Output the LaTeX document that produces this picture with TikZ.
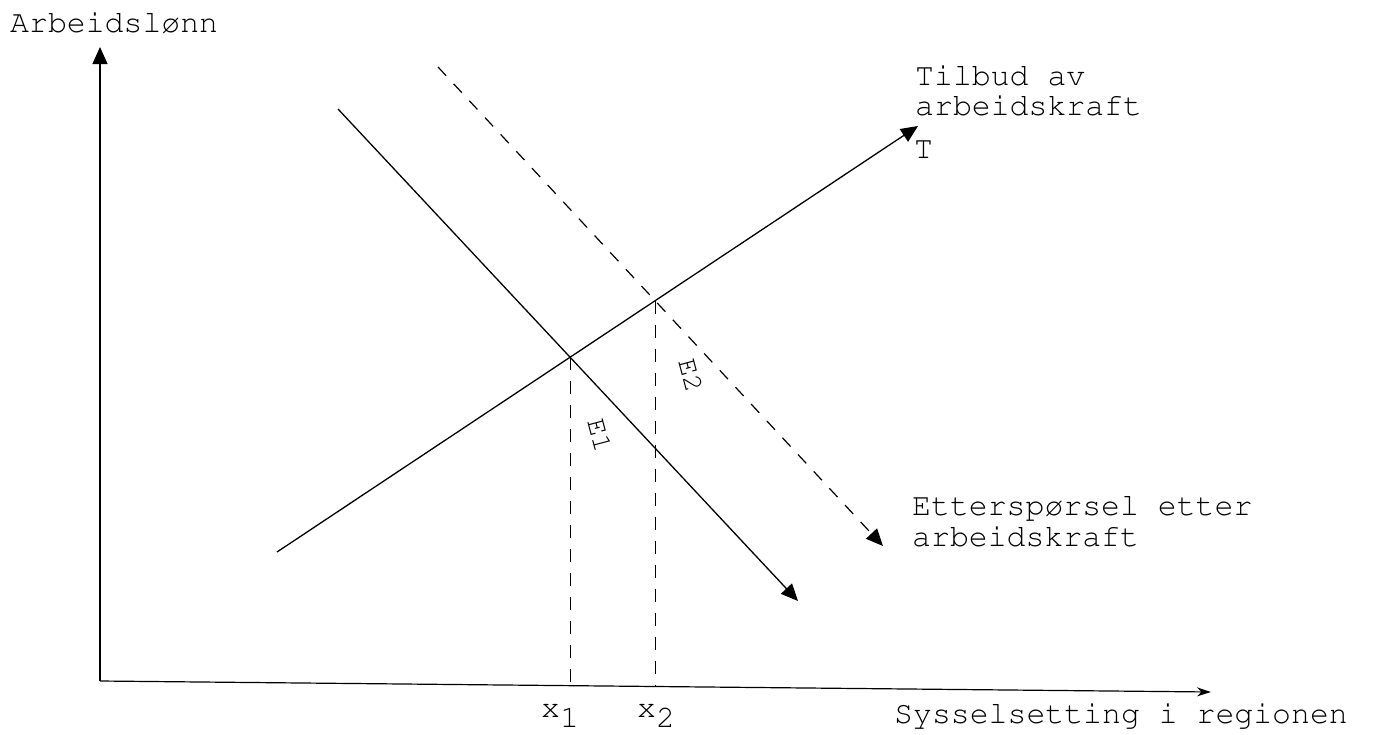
\documentclass[tikz,border=0pt]{standalone}
\usepackage[T1]{fontenc}
\usepackage{courier}
\usetikzlibrary{calc,arrows.meta,positioning}

\begin{document}
\begin{tikzpicture}[x=1pt,y=-1pt,
  every node/.style={inner sep=0pt,font=\ttfamily\fontsize{31.5}{31.5}\selectfont},
  curve/.style={line width=1.3pt},
  shifted/.style={line width=1.2pt,dash pattern=on 12pt off 11pt},
  guide/.style={line width=1.1pt,dash pattern=on 13pt off 11pt},
  tip/.style={-{Triangle[length=17pt,width=15pt]}},
  eqlab/.style={rotate=-75,font=\ttfamily\fontsize{28}{28}\selectfont}]
\useasboundingbox (0,0) rectangle (1389,734);

	%% axes
	\coordinate (O) at (100,681);
	\coordinate (Ytop) at (100,47);
	\coordinate (Xend) at (1211,692);
	\draw[line width=1.2pt,-{Triangle[length=17pt,width=15pt]}] (O) -- (Ytop);
	\draw[line width=1.2pt,-{Stealth[length=14pt,width=9pt]}] (O) -- (Xend);

	%% supply (T) and the two demand curves
	\coordinate (S1) at (277,552);
	\coordinate (S2) at (918,126);
	\coordinate (D1) at (338,109);
	\coordinate (D2) at (798,601);
	\coordinate (N1) at (438,67);
	\coordinate (N2) at (883,546);

	\draw[curve,tip] (S1) -- (S2);
	\draw[curve,tip] (D1) -- (D2);
	\draw[shifted,tip] (N1) -- (N2);

	%% equilibria
	\coordinate (E1) at
	  (intersection cs: first line={(S1) -- (S2)},
			    second line={(D1) -- (D2)});
	\coordinate (E2) at
	  (intersection cs: first line={(S1) -- (S2)},
			    second line={(N1) -- (N2)});
	\draw[guide] (E1) -- ($(E1 |- O)+(0,4)$);
	\draw[guide] (E2) -- ($(E2 |- O)+(0,5)$);

	%% labels
	\node[anchor=base west] (ylab) at (10,32) {Arbeidsl\o nn};
	\node[anchor=base west] (xlab) at (894,723) {Sysselsetting i regionen};
	\node[anchor=base west] (slab) at (915,85) {Tilbud av};
	\node[anchor=base west] (slab2) at (915,115) {arbeidskraft};
	\node[anchor=base west] (tlab) at (914,158) {T};
	\node[anchor=base west] (dlab) at (912,515) {Ettersp\o rsel etter};
	\node[anchor=base west] (dlab2) at (912,546) {arbeidskraft};
	\node[eqlab] (e1lab) at (600,435) {E1};
	\node[eqlab] (e2lab) at (691,375) {E2};
	\node[anchor=base west] (x1lab) at (541,717) {x\raisebox{-10pt}{1}};
	\node[anchor=base west] (x2lab) at (637,717) {x\raisebox{-10pt}{2}};
\end{tikzpicture}
\end{document}
